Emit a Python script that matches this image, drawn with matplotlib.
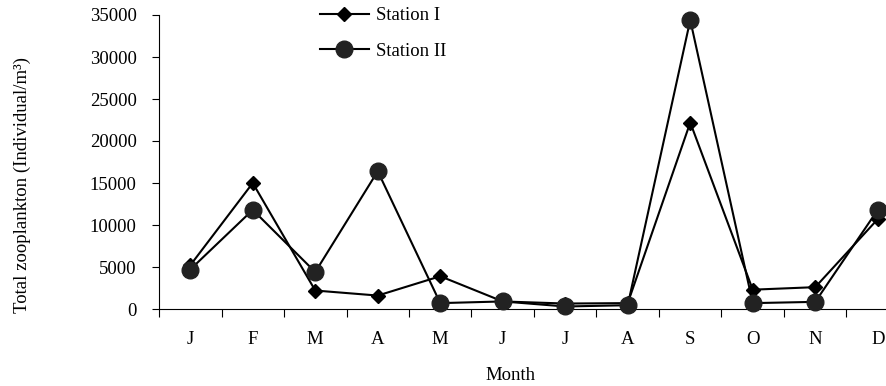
import matplotlib
matplotlib.use("Agg")
import matplotlib.pyplot as plt
from matplotlib.ticker import FixedLocator

plt.rcParams["font.family"] = ["Liberation Serif", "DejaVu Serif"]

months = ["J", "F", "M", "A", "M", "J", "J", "A", "S", "O", "N", "D"]
station_1 = [5200, 15000, 2200, 1600, 3900, 900, 650, 700, 22200, 2300, 2600, 10700]
station_2 = [4700, 11800, 4400, 16400, 700, 900, 300, 450, 34400, 700, 850, 11800]
y_ticks = [0, 5000, 10000, 15000, 20000, 25000, 30000, 35000]

fig = plt.figure(figsize=(8.87, 3.86), dpi=100)
# the axes runs past the right edge of the figure, like the source image
ax = fig.add_axes([159 / 887, 77 / 386, 750 / 887, 294 / 386])

x = list(range(len(months)))
ax.plot(x, station_1, color="black", lw=1.5, marker="D", ms=7,
        mfc="black", mec="black", label="Station I", clip_on=False, zorder=3)
ax.plot(x, station_2, color="black", lw=1.5, marker="o", ms=12,
        mfc="#222222", mec="#222222", label="Station II", clip_on=False, zorder=3)

ax.set_xlim(-0.5, len(months) - 0.5)
ax.set_ylim(0, 35000)
ax.set_xticks(x)
ax.set_xticklabels(months, fontsize=13.5)
ax.xaxis.set_minor_locator(FixedLocator([i - 0.5 for i in range(len(months) + 1)]))
ax.tick_params(axis="x", which="major", length=0, pad=16)
ax.tick_params(axis="x", which="minor", length=6, width=0.8, direction="out")
ax.set_yticks(y_ticks)
ax.set_yticklabels([str(v) for v in y_ticks], fontsize=13.5)
ax.tick_params(axis="y", length=5, width=0.8, direction="out", pad=11)

for side in ["top", "right"]:
    ax.spines[side].set_visible(False)
for side in ["left", "bottom"]:
    ax.spines[side].set_linewidth(0.8)

fig.text(22 / 887, 1 - 185 / 386, "Total zooplankton (Individual/m³)",
         fontsize=13.5, rotation=90, ha="center", va="center")
fig.text(510 / 887, 1 - 375 / 386, "Month", fontsize=13.5, ha="center", va="center")

ax.legend(loc="upper left", bbox_to_anchor=(320 / 887, 1 - 7 / 386),
          bbox_transform=fig.transFigure, frameon=False, fontsize=13.5,
          handlelength=2.6, handletextpad=0.4, labelspacing=1.0,
          borderaxespad=0.0, borderpad=0.0)

fig.savefig("out.png", dpi=100)
